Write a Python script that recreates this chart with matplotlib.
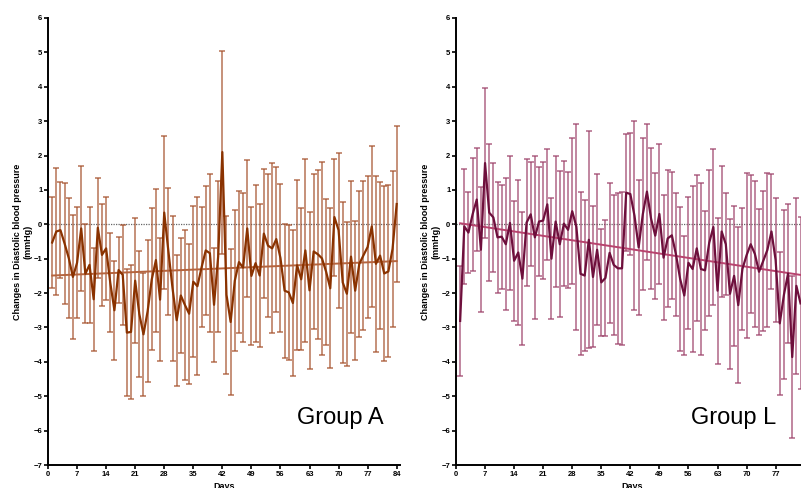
import matplotlib
matplotlib.use("Agg")
import matplotlib.pyplot as plt

plt.rcParams['font.family'] = ['Liberation Sans', 'DejaVu Sans']

# days 1..84 (group L is cropped at the right edge of the picture)
days_a = list(range(1, 85))
mean_a = [-0.53, -0.21, -0.17, -0.56, -0.98, -1.53, -1.12, -0.12, -1.44, -1.18,
          -2.18, -0.10, -0.89, -0.70, -1.70, -2.50, -1.33, -1.47, -3.15, -3.13,
          -1.64, -2.61, -3.20, -2.53, -1.60, -1.04, -2.19, 0.34, -0.78, -1.86,
          -2.79, -2.07, -2.35, -2.60, -1.67, -1.80, -1.25, -0.76, -0.84, -2.34,
          -0.93, 2.10, -2.05, -2.84, -1.64, -1.10, -1.26, -0.12, -1.50, -1.13,
          -1.49, -0.27, -0.62, -0.70, -0.43, -0.98, -1.93, -1.98, -2.29, -1.19,
          -1.60, -0.76, -1.92, -0.79, -0.87, -0.99, -1.38, -1.86, 0.21, -0.17,
          -1.69, -2.02, -0.94, -1.93, -1.15, -0.90, -0.66, -0.06, -1.15, -0.91,
          -1.43, -1.37, -0.72, 0.59]
sd_a = [1.32, 1.86, 1.40, 1.75, 1.74, 1.80, 1.61, 1.82, 1.44, 1.69,
        1.50, 1.46, 1.49, 1.50, 1.44, 1.44, 0.97, 1.45, 1.85, 1.95,
        1.81, 1.82, 1.79, 2.07, 2.06, 2.08, 1.79, 2.22, 1.85, 2.11,
        1.91, 1.67, 2.18, 2.03, 2.19, 2.59, 1.74, 1.88, 2.29, 1.66,
        2.19, 2.95, 2.29, 2.11, 2.05, 2.07, 2.16, 1.98, 2.00, 2.28,
        2.07, 1.87, 2.07, 2.47, 2.11, 2.14, 1.95, 1.96, 2.12, 2.47,
        2.07, 2.65, 2.28, 2.26, 2.46, 2.80, 2.12, 2.32, 1.70, 2.25,
        2.35, 2.09, 2.21, 2.03, 2.13, 2.16, 2.07, 2.34, 2.56, 2.14,
        2.55, 2.50, 2.26, 2.26]
trend_a = [(1, -1.49), (84, -1.07)]

days_l = list(range(1, 84))
mean_l = [-2.81, -0.06, -0.24, 0.29, 0.72, -0.74, 1.78, 0.34, 0.20, -0.38,
          -0.36, -0.58, 0.04, -1.06, -0.82, -1.58, 0.05, 0.29, -0.38, 0.08,
          0.11, 0.58, -1.00, 0.08, -0.58, 0.02, -0.16, 0.38, -0.07, -1.44,
          -1.49, -0.45, -1.53, -0.74, -1.69, -1.56, -0.83, -1.18, -1.28, -1.28,
          0.92, 0.88, 0.25, -0.67, 0.29, 0.95, 0.16, -0.33, 0.30, -0.97,
          -0.41, -0.32, -0.88, -1.59, -2.07, -1.12, -1.30, -0.70, -1.30, -1.34,
          -0.54, -0.08, -1.93, -0.21, -0.58, -2.02, -1.50, -2.35, -1.30, -0.90,
          -0.58, -0.86, -1.38, -1.07, -0.75, -0.21, -1.04, -2.88, -2.05, -1.43,
          -3.86, -1.79, -2.30]
sd_l = [1.61, 1.68, 1.19, 1.65, 1.50, 1.82, 2.18, 1.99, 1.58, 1.61,
        1.51, 1.92, 1.96, 1.74, 2.10, 1.94, 1.85, 1.51, 2.37, 1.58,
        1.71, 1.62, 1.76, 1.91, 2.13, 1.81, 1.68, 2.13, 3.00, 2.37,
        2.19, 3.15, 2.05, 2.19, 1.56, 1.69, 2.04, 2.04, 2.20, 2.23,
        1.71, 1.78, 2.75, 1.97, 2.21, 1.98, 2.05, 1.83, 2.04, 1.81,
        2.00, 1.84, 1.78, 2.09, 1.72, 1.92, 2.40, 2.12, 2.50, 1.72,
        2.12, 2.27, 2.12, 1.91, 1.49, 2.18, 2.04, 2.26, 1.76, 2.40,
        2.00, 2.12, 1.83, 2.04, 2.23, 1.67, 1.80, 2.08, 2.46, 2.03,
        2.36, 2.56, 2.50]
trend_l = [(1, 0.03), (84, -1.49)]

groups = [
    ("Group A", days_a, mean_a, sd_a, trend_a, '#8a3200', '#a5502a', '#b5643e'),
    ("Group L", days_l, mean_l, sd_l, trend_l, '#6e0f3c', '#9c4068', '#b8436e'),
]

fig = plt.figure(figsize=(8.01, 4.88), dpi=100)
lefts = [48 / 801, 456 / 801]
for left, (name, days, mean, sd, trend, line_c, err_c, trend_c) in zip(lefts, groups):
    ax = fig.add_axes([left, 1 - 465 / 488, 352 / 801, 447 / 488])
    ax.axhline(0, color='#666666', lw=0.9, ls=(0, (1, 1)), zorder=1)
    ax.errorbar(days, mean, yerr=sd, fmt='none', ecolor=err_c, elinewidth=1.1,
                capsize=2.0, capthick=1.1, alpha=0.8, zorder=2)
    ax.plot(days, mean, color=line_c, lw=1.6, zorder=4)
    ax.plot([p[0] for p in trend], [p[1] for p in trend], color=trend_c, lw=1.4, zorder=3)
    ax.set_xlim(0, 84.8)
    ax.set_ylim(-7, 6)
    ax.set_xticks(range(0, 85, 7))
    ax.set_yticks(range(-7, 7))
    for s in ['top', 'right']:
        ax.spines[s].set_visible(False)
    for s in ['left', 'bottom']:
        ax.spines[s].set_linewidth(1.4)
    ax.tick_params(direction='out', length=3, width=1.2, labelsize=5.5, pad=1)
    for lab in ax.get_xticklabels() + ax.get_yticklabels():
        lab.set_fontweight('bold')
    ax.set_ylabel("Changes in Diastolic blood pressure\n(mmHg)", fontsize=6.5,
                  fontweight='bold', linespacing=1.1)
    ax.yaxis.set_label_coords(-0.045, 0.5)
    ax.set_xlabel("Days", fontsize=6.5, fontweight='bold', labelpad=3)
    ax.text(60 if name == "Group A" else 56.6, -5.8, name, fontsize=17)

fig.savefig("out.png", dpi=100)
